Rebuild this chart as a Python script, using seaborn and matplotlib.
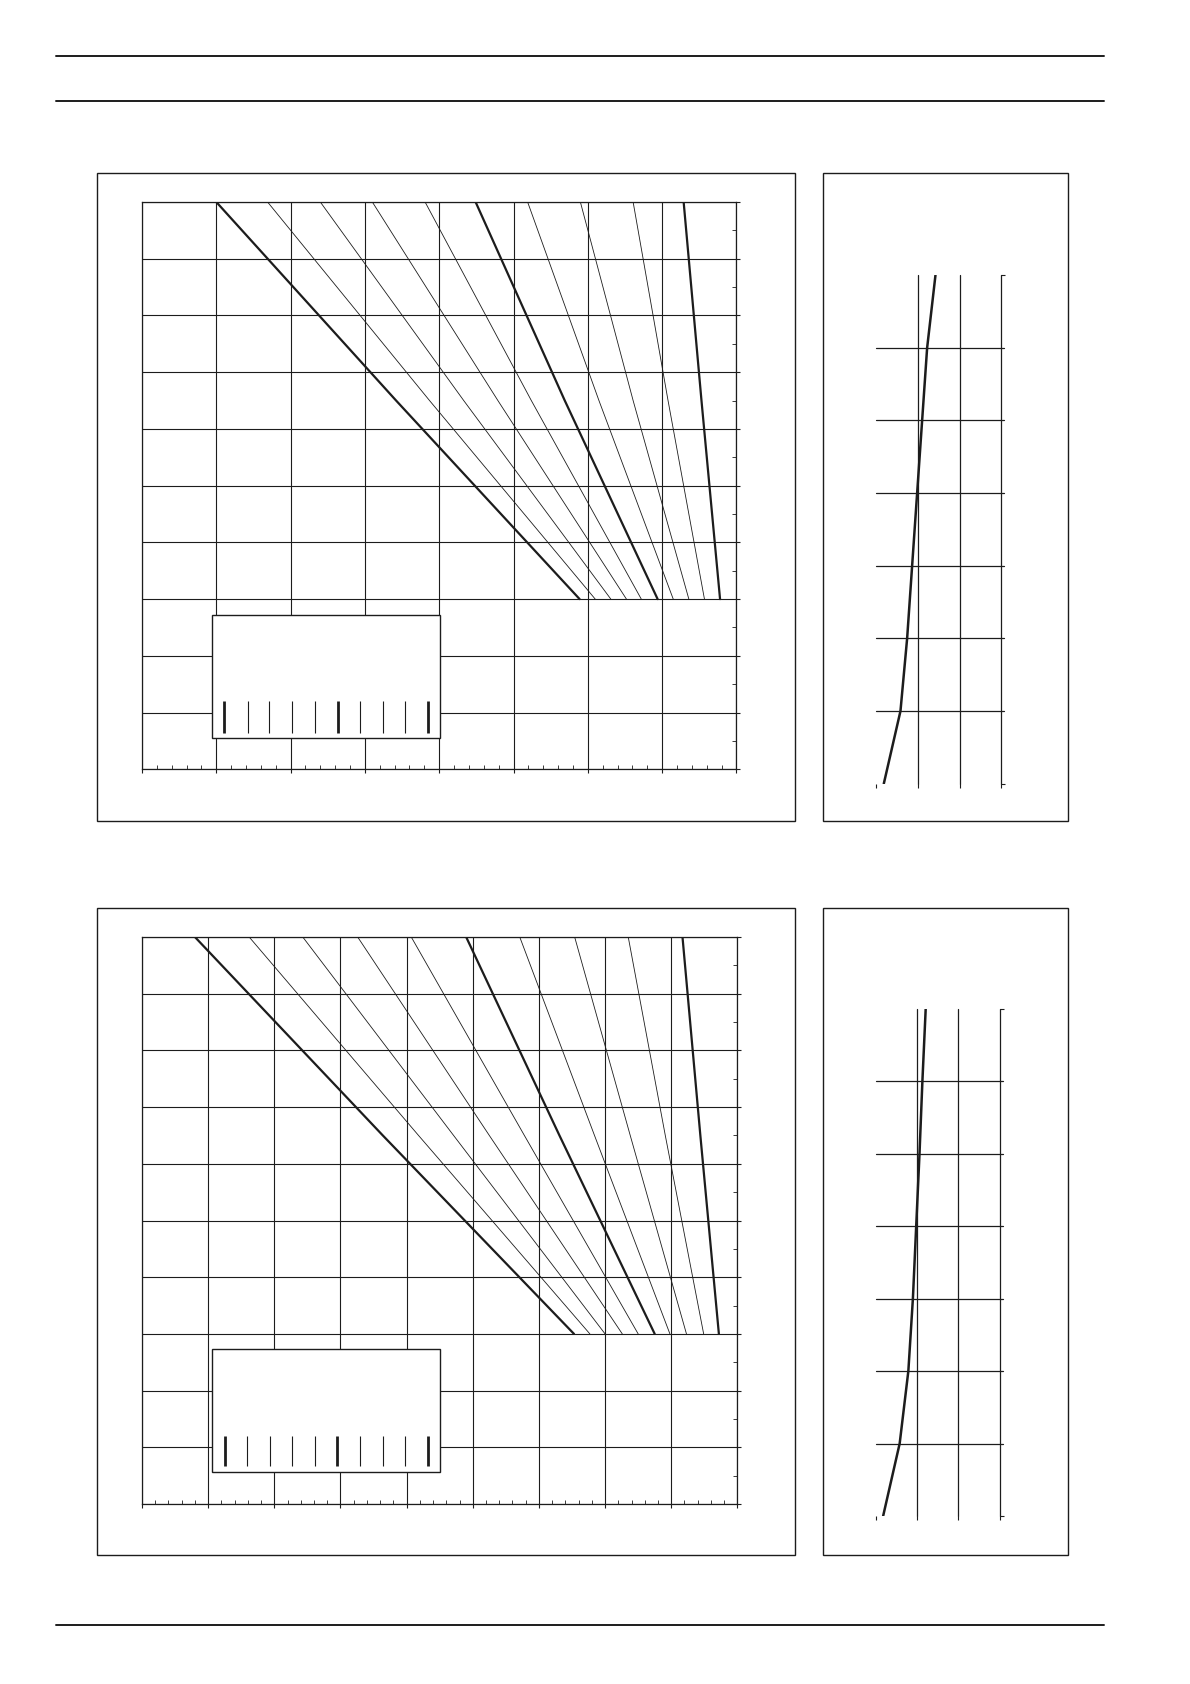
import numpy as np
import pandas as pd
import matplotlib
matplotlib.use("Agg")
import matplotlib.pyplot as plt
import seaborn as sns
from matplotlib.patches import Rectangle
from matplotlib.lines import Line2D
from matplotlib.ticker import MultipleLocator

# ==================================================
# DATA
# ==================================================

# y levels at which the fan curves were read
curve_level = [10, 6.5, 3]

# upper chart: x of each curve at y = 10, 6.5, 3
top_start = [1.00, 1.69, 2.40, 3.10, 3.81, 4.49, 5.19, 5.90, 6.61, 7.29]
top_mid = [3.42, 3.87, 4.33, 4.79, 5.24, 5.69, 6.15, 6.61, 7.08, 7.53]
top_end = [5.89, 6.10, 6.31, 6.52, 6.72, 6.94, 7.15, 7.36, 7.57, 7.78]

# lower chart
bot_start = [0.80, 1.62, 2.43, 3.26, 4.07, 4.90, 5.71, 6.54, 7.35, 8.17]
bot_mid = [3.64, 4.18, 4.71, 5.25, 5.78, 6.31, 6.84, 7.38, 7.91, 8.44]
bot_end = [6.53, 6.77, 7.00, 7.26, 7.50, 7.75, 7.98, 8.23, 8.49, 8.72]

# which curves are drawn bold
bold_curves = [0, 5, 9]

# side charts: one curve each
side_y = [0, 1, 2, 3, 4, 5, 6, 7]
side_top_x = [0.18, 0.58, 0.74, 0.86, 0.98, 1.10, 1.22, 1.42]
side_bot_x = [0.18, 0.58, 0.79, 0.90, 0.98, 1.06, 1.13, 1.21]

# ==================================================
# STYLE
# ==================================================

sns.set_theme(style="white")
plt.rcParams['font.family'] = ['DejaVu Sans']

INK = '#1c1c1c'
W, H = 1190, 1684

fig = plt.figure(figsize=(W / 100, H / 100), dpi=100)
fig.patch.set_facecolor('white')


def rect(x0, y0, x1, y1):
    # pixel box (top-down) -> figure fraction
    return [x0 / W, 1 - y1 / H, (x1 - x0) / W, (y1 - y0) / H]


def frame(x0, y0, x1, y1):
    fig.add_artist(Rectangle((x0 / W, 1 - y1 / H), (x1 - x0) / W, (y1 - y0) / H,
                             transform=fig.transFigure, fill=False,
                             edgecolor=INK, lw=1.0))


def hline(y, x0=56, x1=1104):
    fig.add_artist(Line2D([x0 / W, x1 / W], [1 - y / H, 1 - y / H],
                          transform=fig.transFigure, color=INK, lw=1.4))


# page rules
hline(56)
hline(101)
hline(1625)

# ==================================================
# MAIN FAN CHARTS
# ==================================================


def fan_chart(pos, xmax, starts, mids, ends, inset, samples):
    ax = fig.add_axes(rect(*pos))
    rows = []
    for i in range(len(starts)):
        for lvl, xv in zip(curve_level, [starts[i], mids[i], ends[i]]):
            rows.append({'curve': i, 'x': xv, 'y': lvl})
    df = pd.DataFrame(rows)

    for i, grp in df.groupby('curve'):
        sns.lineplot(data=grp, x='x', y='y', sort=False, estimator=None,
                     color=INK, lw=1.6 if i in bold_curves else 0.6, ax=ax)

    ax.set_xlim(0, xmax)
    ax.set_ylim(0, 10)
    ax.set_xticks(range(xmax + 1))
    ax.set_yticks(range(11))
    ax.xaxis.set_minor_locator(MultipleLocator(0.2))
    ax.yaxis.set_minor_locator(MultipleLocator(0.5))
    ax.grid(True, which='major', color=INK, lw=0.8)
    ax.set_axisbelow(True)

    for s in ax.spines.values():
        s.set_color(INK)
        s.set_linewidth(0.9)

    ax.yaxis.tick_right()
    ax.tick_params(axis='x', which='major', direction='out', length=3,
                   width=0.8, color=INK, bottom=True, labelbottom=False)
    ax.tick_params(axis='x', which='minor', direction='in', length=3,
                   width=0.6, color=INK, bottom=True)
    ax.tick_params(axis='y', which='major', direction='out', length=3,
                   width=0.8, color=INK, right=True, left=False, labelright=False)
    ax.tick_params(axis='y', which='minor', direction='in', length=3,
                   width=0.6, color=INK, right=True, left=False)
    ax.set_xlabel('')
    ax.set_ylabel('')

    # legend-like inset box
    bx0, by0, bx1, by1 = inset
    ax.add_patch(Rectangle((bx0, by0), bx1 - bx0, by1 - by0, facecolor='white',
                           edgecolor=INK, lw=1.0, zorder=3))
    sx, sy0, sy1 = samples
    for k, xs in enumerate(sx):
        ax.plot([xs, xs], [sy0, sy1], color=INK,
                lw=2.0 if k in bold_curves else 0.8, zorder=4,
                solid_capstyle='butt')
    return ax


frame(97, 173, 795, 820.5)
fan_chart((142, 202, 736.4, 769.3), 8, top_start, top_mid, top_end,
          (0.946, 0.552, 4.01, 2.715),
          ([1.10, 1.42, 1.71, 2.02, 2.33, 2.64, 2.94, 3.25, 3.54, 3.85], 0.645, 1.20))

frame(97, 907.5, 795, 1555)
fan_chart((142, 937, 737.4, 1504), 9, bot_start, bot_mid, bot_end,
          (1.06, 0.556, 4.50, 2.73),
          ([1.25, 1.59, 1.93, 2.27, 2.61, 2.95, 3.29, 3.64, 3.97, 4.33], 0.67, 1.20))

# ==================================================
# SIDE CHARTS
# ==================================================


def side_chart(pos, xs):
    ax = fig.add_axes(rect(*pos))
    ax.set_facecolor('none')
    sns.lineplot(x=xs, y=side_y, sort=False, estimator=None, color=INK,
                 lw=1.8, ax=ax)
    ax.set_xlim(0, 3)
    ax.set_ylim(0, 7)
    for lv in range(1, 4):
        ax.axvline(lv, color=INK, lw=0.9, zorder=1, clip_on=False)
    for lv in range(1, 7):
        ax.plot([0, 3.07], [lv, lv], color=INK, lw=0.9, zorder=1, clip_on=False)
    for side in ['left', 'top', 'bottom', 'right']:
        ax.spines[side].set_visible(False)
    ax.set_xticks(range(4))
    ax.set_yticks([0, 7])
    ax.yaxis.tick_right()
    ax.tick_params(axis='x', direction='out', length=3, width=0.8, color=INK,
                   bottom=True, labelbottom=False)
    ax.tick_params(axis='y', direction='out', length=3, width=0.8, color=INK,
                   right=True, left=False, labelright=False)
    ax.set_xlabel('')
    ax.set_ylabel('')
    return ax


frame(823, 173, 1068, 820.5)
side_chart((876.3, 275.2, 1001.3, 783.7), side_top_x)

frame(823, 907.5, 1068, 1555)
side_chart((875.7, 1008.5, 999.7, 1516), side_bot_x)

fig.savefig('out.png', dpi=100, facecolor='white')
